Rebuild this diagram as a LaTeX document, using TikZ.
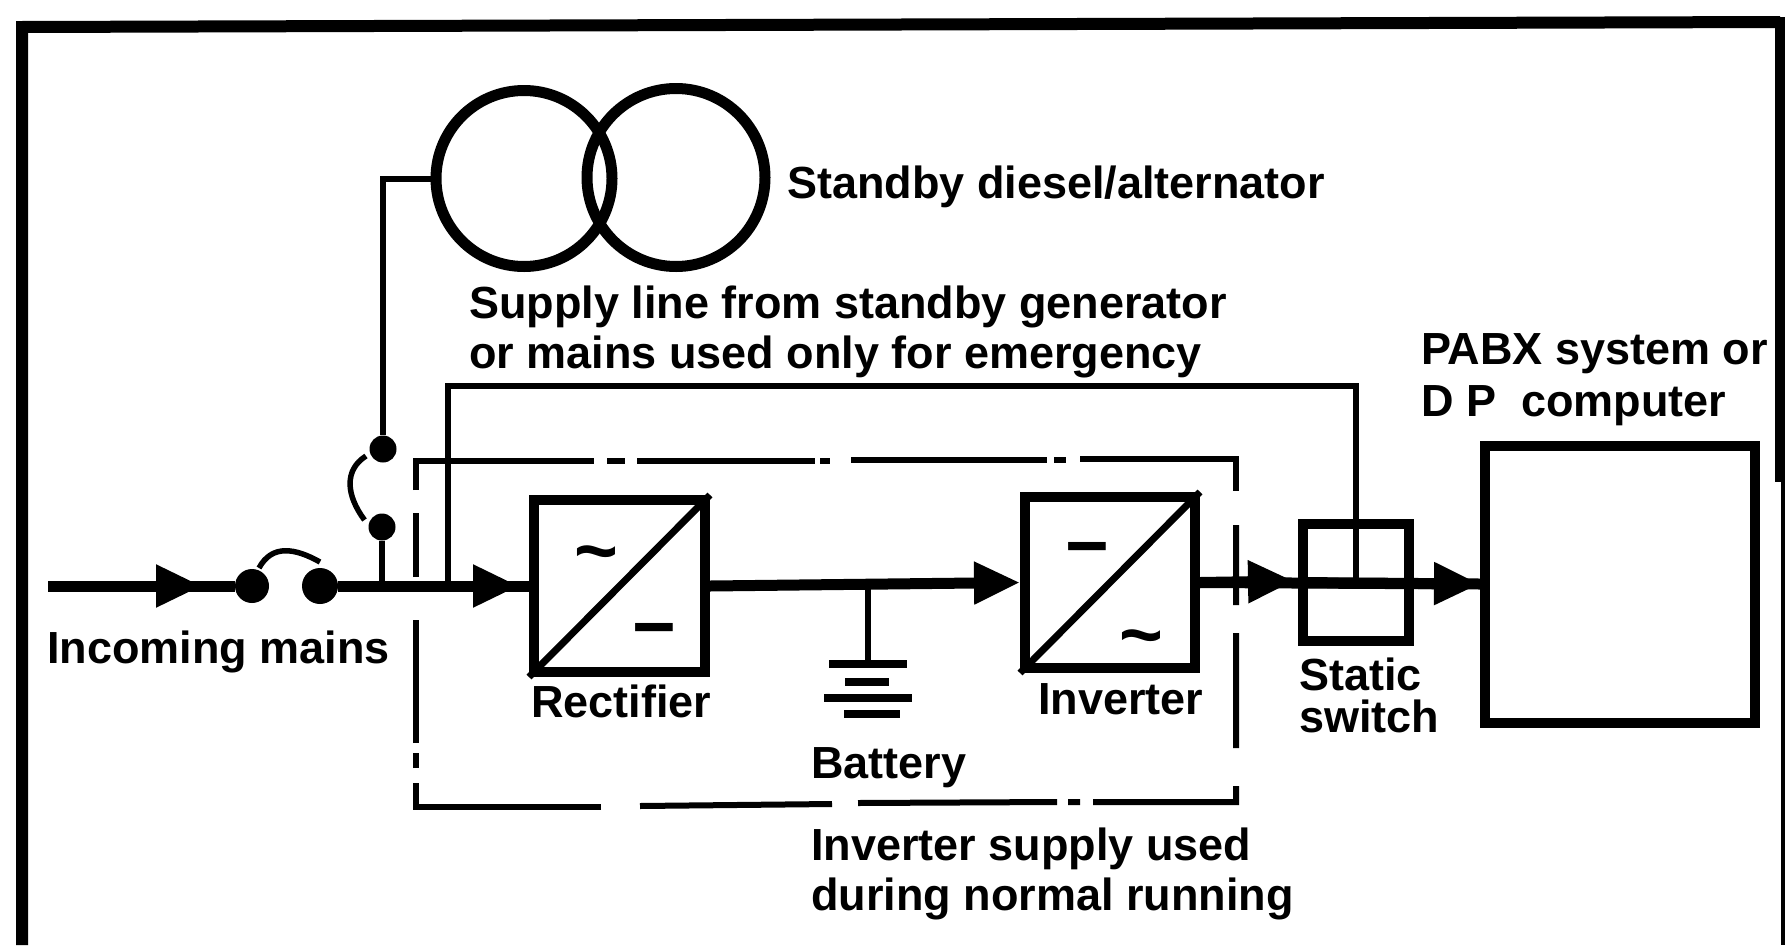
\documentclass[tikz,border=0pt]{standalone}
\usepackage{fontspec}
\setmainfont{Liberation Sans}
\usetikzlibrary{arrows.meta}

\begin{document}
\begin{tikzpicture}[
	x=1pt, y=-1pt,
	wire/.style={line width=6pt},
	mains/.style={line width=11pt},
	arm/.style={line width=5.5pt},
	boxline/.style={line width=6pt},
	flow/.style={-{Triangle[length=46pt,width=40pt]}},
	block/.style={draw, line width=10pt, inner sep=0pt},
	gen/.style={draw, circle, line width=11pt, inner sep=0pt},
	dot/.style={circle, fill, inner sep=0pt, minimum size=34pt},
	smalldot/.style={circle, fill, inner sep=0pt, minimum size=27pt},
	plate/.style={fill, inner sep=0pt, minimum height=8pt},
	caption/.style={inner sep=0pt, anchor=base west, align=left, font=\bfseries\fontsize{45}{50}\selectfont},
	sign/.style={inner sep=0pt, font=\bfseries\fontsize{75}{75}\selectfont}]
	\useasboundingbox (0,0) rectangle (1785,945);
	% outer frame, open at the bottom
	\draw [line width=12pt] (22,945) -- (22,27) -- (1780,22);
	\draw [line width=10pt] (1780,17) -- (1780,482);
	\draw [line width=5pt] (1783,482) -- (1783,945);

	\node [gen, minimum size=176pt] (genA) at (524,178.5) {};
	\node [gen, minimum size=178pt] (genB) at (676,177.5) {};
	\node [caption] (cGen) at (787,198) {Standby diesel/alternator};
	\node [caption] (cSupply) at (469,368) {Supply line from standby generator\\or mains used only for emergency};

	% blocks
	\node [block, minimum width=171pt, minimum height=172pt] (rect) at (619.5,586) {};
	\node [block, minimum width=170pt, minimum height=171pt] (inv) at (1110,582.5) {};
	\node [block, minimum width=106pt, minimum height=117pt] (static) at (1356,582.5) {};
	\node [block, minimum width=270pt, minimum height=277pt] (pabx) at (1620,584) {};
	\draw [line width=7pt] (rect.south west) -- (rect.north east);
	\draw [line width=7pt] (inv.south west) -- (inv.north east);
	\node [sign] (sA) at (596,561) {\textasciitilde};
	\node [sign] (sB) at (654,638) {−};
	\node [sign] (sC) at (1087,557) {−};
	\node [sign] (sD) at (1141,645) {\textasciitilde};

	% incoming line and breaker
	\coordinate (in) at (48,586);
	\coordinate (tipA) at (202,586);
	\coordinate (tipB) at (519,586);
	\coordinate (tipC) at (1294,581);
	\node [dot] (brA) at (252,586) {};
	\node [dot, minimum size=36pt] (brB) at (320,586) {};
	\coordinate (armA) at (259,568);
	\coordinate (armB) at (320,562);
	\draw [arm] (armA) .. controls (272,544) and (295,548) .. (armB);
	\draw [mains] (in) -- (brA);
	\draw [mains, flow] (in) -- (tipA);
	\draw [mains] (brB) -- (rect.west);
	\draw [mains, flow] (brB) -- (tipB);
	\draw [mains, flow] (rect.east) -- (inv.west);
	\draw [mains] (inv.east) -- (pabx.west);
	\draw [mains, flow] (inv.east) -- (tipC);
	\draw [mains, flow] (static.west) -- (pabx.west);

	% changeover switch to the generator
	\node [smalldot] (swHigh) at (383,449) {};
	\node [smalldot] (swLow) at (382,527) {};
	\coordinate (armC) at (366,456);
	\coordinate (armD) at (364.5,520);
	\coordinate (tapS) at (385,586);
	\draw [arm] (armC) .. controls (344,470) and (346,495) .. (armD);
	\draw [wire] (swHigh) |- (genA.west);
	\draw [wire] (swLow) -- (tapS -| swLow);

	% emergency supply
	\coordinate (tapE) at (448,586);
	\coordinate (cornerE) at (448,386);
	\draw [wire] (tapE) -- (cornerE) -| (static.center);

	% battery
	\coordinate (tapB) at (868,584);
	\node [plate, minimum width=78pt] (plA) at (868,664) {};
	\node [plate, minimum width=44pt] (plB) at (867,682) {};
	\node [plate, minimum width=88pt] (plC) at (868,698) {};
	\node [plate, minimum width=56pt] (plD) at (872,714) {};
	\draw [wire] (tapB) -- (plA);

	% broken outline round rectifier and inverter
	\draw [boxline] (416,490) |- (594,461) (607,461) -- (625,461) (637,461) -- (815,461)
		(820,461) -- (830,461) (851,460) -- (1047,460) (1054,460) -- (1066,460)
		(1080,459) -- (1236,459) -- (1236,491);
	\draw [boxline] (1236,525) -- (1236,605) (1236,633) -- (1236,748) (1236,786) |- (1093,802)
		(1080,802) -- (1068,802) (1057,802) -- (858,803) (832,804) -- (640,806);
	\draw [boxline] (601,807) -| (416,783) (416,768) -- (416,753) (416,743) -- (416,620) (416,577) -- (416,513);

	% text
	\node [caption] (cMains) at (47,663) {Incoming mains};
	\node [caption] (cRect) at (531,717) {Rectifier};
	\node [caption] (cInv) at (1038,714) {Inverter};
	\node [caption] (cStatic) at (1299,732) {Static\\[-8pt]switch};
	\node [caption] (cBatt) at (811,778) {Battery};
	\node [caption] (cNormal) at (811,910) {Inverter supply used\\during normal running};
	\node [caption] (cPabx) at (1421,416) {PABX system or\\[2pt]D P\ \ computer};
\end{tikzpicture}
\end{document}
